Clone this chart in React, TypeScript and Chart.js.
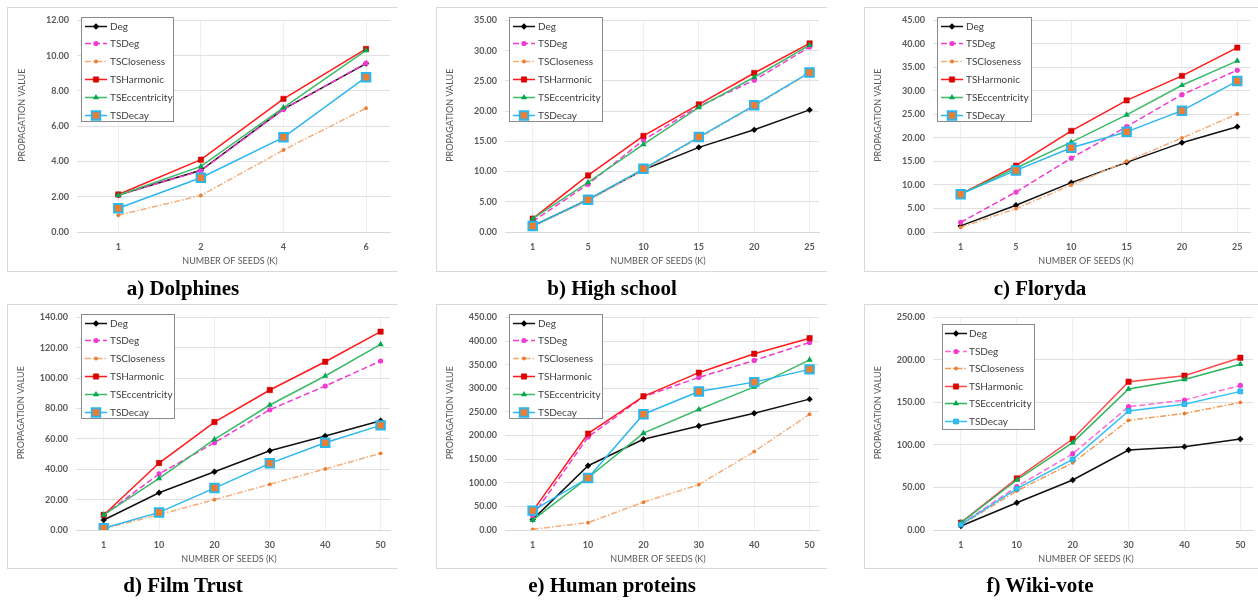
import React, { useEffect, useRef } from "react";
import { Chart, registerables } from "chart.js";
import { drawPoint } from "chart.js/helpers";

Chart.register(...registerables);

const SERIES_NAMES = ["Deg", "TSDeg", "TSCloseness", "TSHarmonic", "TSEccentricity", "TSDecay"];
const X_TITLE = "NUMBER OF SEEDS (K)";
const Y_TITLE = "PROPAGATION VALUE";

// a) Dolphines
const dolphinsSeeds = ["1", "2", "4", "6"];
const dolphinsDeg = [2.1, 3.5, 6.97, 9.55];
const dolphinsTSDeg = [2.1, 3.47, 6.95, 9.58];
const dolphinsTSCloseness = [0.95, 2.07, 4.65, 7.02];
const dolphinsTSHarmonic = [2.13, 4.1, 7.55, 10.38];
const dolphinsTSEccentricity = [2.08, 3.72, 7.05, 10.3];
const dolphinsTSDecay = [1.35, 3.08, 5.37, 8.78];

// b) High school
const highSchoolSeeds = ["1", "5", "10", "15", "20", "25"];
const highSchoolDeg = [1.0, 5.35, 10.3, 14.0, 16.9, 20.2];
const highSchoolTSDeg = [1.75, 7.9, 15.2, 20.8, 25.1, 30.6];
const highSchoolTSCloseness = [0.9, 5.2, 10.2, 15.6, 20.8, 26.3];
const highSchoolTSHarmonic = [2.2, 9.35, 15.9, 21.1, 26.3, 31.2];
const highSchoolTSEccentricity = [2.2, 8.2, 14.5, 20.6, 25.6, 30.9];
const highSchoolTSDecay = [1.0, 5.35, 10.45, 15.7, 20.95, 26.4];

// c) Floryda
const florydaSeeds = ["1", "5", "10", "15", "20", "25"];
const florydaDeg = [1.3, 5.7, 10.5, 14.8, 19.0, 22.4];
const florydaTSDeg = [2.05, 8.5, 15.7, 22.4, 29.2, 34.4];
const florydaTSCloseness = [1.0, 4.95, 10.0, 15.0, 20.0, 25.1];
const florydaTSHarmonic = [8.05, 14.1, 21.5, 28.0, 33.2, 39.2];
const florydaTSEccentricity = [8.05, 13.6, 19.1, 24.9, 31.2, 36.4];
const florydaTSDecay = [8.05, 13.1, 17.9, 21.3, 25.8, 32.1];

// d) Film Trust
const filmTrustSeeds = ["1", "10", "20", "30", "40", "50"];
const filmTrustDeg = [6.6, 24.5, 38.4, 52.2, 61.9, 72.0];
const filmTrustTSDeg = [9.9, 36.9, 57.5, 79.2, 94.8, 111.3];
const filmTrustTSCloseness = [0.9, 10.1, 20.0, 30.1, 40.2, 50.5];
const filmTrustTSHarmonic = [9.9, 44.1, 71.1, 92.2, 110.8, 130.6];
const filmTrustTSEccentricity = [9.9, 34.0, 59.7, 82.3, 101.4, 122.2];
const filmTrustTSDecay = [1.1, 11.6, 27.6, 43.9, 57.5, 68.9];

// e) Human proteins
const humanSeeds = ["1", "10", "20", "30", "40", "50"];
const humanDeg = [22, 136, 192, 220, 247, 277];
const humanTSDeg = [30, 197, 282, 323, 359, 397];
const humanTSCloseness = [1.5, 15.5, 59, 96, 166, 245];
const humanTSHarmonic = [40, 204, 283, 333, 373, 406];
const humanTSEccentricity = [21, 111, 205, 255, 303, 360];
const humanTSDecay = [41, 110, 245, 293, 313, 340];

// f) Wiki-vote
const wikiSeeds = ["1", "10", "20", "30", "40", "50"];
const wikiDeg = [4.7, 32, 58.8, 94, 98, 107];
const wikiTSDeg = [7, 51, 89.7, 145, 152.8, 170];
const wikiTSCloseness = [5.9, 46, 79, 129, 137, 150];
const wikiTSHarmonic = [8.6, 60.7, 107, 174.4, 181.5, 202.5];
const wikiTSEccentricity = [8.6, 58.8, 102.7, 165.8, 177, 195];
const wikiTSDecay = [6.3, 48.6, 83, 140, 148, 163];

const CAPTIONS = ["a) Dolphines", "b) High school", "c) Floryda", "d) Film Trust", "e) Human proteins", "f) Wiki-vote"];
const Y_MAX = [12, 35, 45, 140, 450, 250];
const Y_STEP = [2, 5, 5, 20, 50, 50];

type Style = {
  color: string;
  dash: number[];
  pointStyle: string;
  radius: number;
  pointFill: string;
  pointBorder: string;
  pointBorderWidth: number;
};

const STYLES: Style[] = [
  { color: "#111111", dash: [], pointStyle: "rectRot", radius: 3.2, pointFill: "#000000", pointBorder: "#000000", pointBorderWidth: 0 },
  { color: "#f03ad0", dash: [6, 3], pointStyle: "circle", radius: 2.6, pointFill: "#f03ad0", pointBorder: "#f03ad0", pointBorderWidth: 0 },
  { color: "#f5ad7a", dash: [6, 2, 1.5, 2], pointStyle: "circle", radius: 1.9, pointFill: "#ed7d31", pointBorder: "#ed7d31", pointBorderWidth: 0 },
  { color: "#ff1a1a", dash: [], pointStyle: "rect", radius: 3.8, pointFill: "#e00000", pointBorder: "#c00000", pointBorderWidth: 0.5 },
  { color: "#3cba6a", dash: [], pointStyle: "triangle", radius: 3.6, pointFill: "#00a84f", pointBorder: "#00a84f", pointBorderWidth: 0 },
  { color: "#2ab7f0", dash: [], pointStyle: "rect", radius: 6, pointFill: "#ed7d31", pointBorder: "#2ab7f0", pointBorderWidth: 2 },
];

const WIKI_STYLES: Style[] = [
  STYLES[0],
  { ...STYLES[1], color: "#ff6ad8" },
  { ...STYLES[2], color: "#f29a55" },
  { ...STYLES[3], color: "#ff4a4a" },
  { ...STYLES[4], color: "#2fb35e" },
  { color: "#33c0f5", dash: [], pointStyle: "rect", radius: 3.4, pointFill: "#33c0f5", pointBorder: "#1aa6e0", pointBorderWidth: 0.8 },
];

type Rect = { l: number; t: number; r: number; b: number };
type PanelDef = {
  seeds: string[];
  series: number[][];
  yMax: number;
  yStep: number;
  caption: string;
  box: Rect;
  plot: Rect;
  xMax: number;
  legend: { x: number; y: number; w: number; h: number; first: number; gap: number; lx0: number; lx1: number; tx: number };
  styles: Style[];
};

const LEG_A = { x: 74, y: 10, w: 93, h: 105, first: 8.5, gap: 17.8, lx0: 4, lx1: 26, tx: 29 };
const LEG_F = { x: 78, y: 20, w: 93, h: 106, first: 9, gap: 17.6, lx0: 3, lx1: 25, tx: 27 };

const PANELS: PanelDef[] = [
  {
    seeds: dolphinsSeeds,
    series: [dolphinsDeg, dolphinsTSDeg, dolphinsTSCloseness, dolphinsTSHarmonic, dolphinsTSEccentricity, dolphinsTSDecay],
    yMax: Y_MAX[0], yStep: Y_STEP[0], caption: CAPTIONS[0],
    box: { l: 7, t: 7, r: 398, b: 272 }, plot: { l: 77, t: 20, r: 398, b: 232 }, xMax: 3.29,
    legend: LEG_A, styles: STYLES,
  },
  {
    seeds: highSchoolSeeds,
    series: [highSchoolDeg, highSchoolTSDeg, highSchoolTSCloseness, highSchoolTSHarmonic, highSchoolTSEccentricity, highSchoolTSDecay],
    yMax: Y_MAX[1], yStep: Y_STEP[1], caption: CAPTIONS[1],
    box: { l: 436, t: 7, r: 827, b: 272 }, plot: { l: 505, t: 20, r: 827, b: 232 }, xMax: 5.17,
    legend: { ...LEG_A, x: 73, w: 94 }, styles: STYLES,
  },
  {
    seeds: florydaSeeds,
    series: [florydaDeg, florydaTSDeg, florydaTSCloseness, florydaTSHarmonic, florydaTSEccentricity, florydaTSDecay],
    yMax: Y_MAX[2], yStep: Y_STEP[2], caption: CAPTIONS[2],
    box: { l: 864, t: 7, r: 1258, b: 272 }, plot: { l: 933, t: 20, r: 1258, b: 232 }, xMax: 5.23,
    legend: { ...LEG_A, x: 73, w: 95 }, styles: STYLES,
  },
  {
    seeds: filmTrustSeeds,
    series: [filmTrustDeg, filmTrustTSDeg, filmTrustTSCloseness, filmTrustTSHarmonic, filmTrustTSEccentricity, filmTrustTSDecay],
    yMax: Y_MAX[3], yStep: Y_STEP[3], caption: CAPTIONS[3],
    box: { l: 7, t: 304, r: 398, b: 569 }, plot: { l: 76, t: 317, r: 398, b: 530 }, xMax: 5.17,
    legend: { ...LEG_A, x: 74, w: 94 }, styles: STYLES,
  },
  {
    seeds: humanSeeds,
    series: [humanDeg, humanTSDeg, humanTSCloseness, humanTSHarmonic, humanTSEccentricity, humanTSDecay],
    yMax: Y_MAX[4], yStep: Y_STEP[4], caption: CAPTIONS[4],
    box: { l: 436, t: 304, r: 827, b: 569 }, plot: { l: 505, t: 317, r: 827, b: 530 }, xMax: 5.17,
    legend: { ...LEG_A, x: 73, w: 94 }, styles: STYLES,
  },
  {
    seeds: wikiSeeds,
    series: [wikiDeg, wikiTSDeg, wikiTSCloseness, wikiTSHarmonic, wikiTSEccentricity, wikiTSDecay],
    yMax: Y_MAX[5], yStep: Y_STEP[5], caption: CAPTIONS[5],
    box: { l: 864, t: 304, r: 1258, b: 569 }, plot: { l: 933, t: 317, r: 1258, b: 530 }, xMax: 5.23,
    legend: LEG_F, styles: WIKI_STYLES,
  },
];

const FONT = "Lato, 'Liberation Sans', sans-serif";
const TEXT_GRAY = "#595959";

const decorPlugin = {
  id: "decor",
  afterDraw(chart: any, _args: any, opts: any) {
    const ctx = chart.ctx as CanvasRenderingContext2D;
    const ca = chart.chartArea;
    ctx.save();
    ctx.font = `9px ${FONT}`;
    ctx.fillStyle = TEXT_GRAY;
    ctx.textAlign = "center";
    ctx.textBaseline = "middle";
    ctx.fillText(X_TITLE, ca.left + 153, ca.bottom + 29);
    ctx.translate(ca.left - 55, (ca.top + ca.bottom) / 2 - 11);
    ctx.rotate(-Math.PI / 2);
    ctx.fillText(Y_TITLE, 0, 0);
    ctx.restore();

    const L = opts.legend;
    if (!L) return;
    ctx.save();
    ctx.fillStyle = "#ffffff";
    ctx.fillRect(L.x, L.y, L.w, L.h);
    ctx.strokeStyle = "#8a8a8a";
    ctx.lineWidth = 1;
    ctx.strokeRect(L.x + 0.5, L.y + 0.5, L.w - 1, L.h - 1);
    chart.data.datasets.forEach((ds: any, i: number) => {
      const cy = Math.round(L.y + L.first + i * L.gap) + 0.5;
      const x0 = L.x + L.lx0;
      const x1 = L.x + L.lx1;
      ctx.beginPath();
      ctx.setLineDash(ds.borderDash || []);
      ctx.strokeStyle = ds.borderColor;
      ctx.lineWidth = ds.borderWidth;
      ctx.moveTo(x0, cy);
      ctx.lineTo(x1, cy);
      ctx.stroke();
      ctx.setLineDash([]);
      ctx.fillStyle = ds.pointBackgroundColor;
      ctx.strokeStyle = ds.pointBorderColor;
      ctx.lineWidth = ds.pointBorderWidth;
      drawPoint(ctx, { pointStyle: ds.pointStyle, radius: ds.pointRadius, rotation: 0, borderWidth: ds.pointBorderWidth } as any, (x0 + x1) / 2, cy);
      ctx.fillStyle = "#404040";
      ctx.font = `10px ${FONT}`;
      ctx.textAlign = "left";
      ctx.textBaseline = "middle";
      ctx.fillText(ds.label, L.x + L.tx, cy);
    });
    ctx.restore();
  },
};

function Panel({ def }: { def: PanelDef }) {
  const ref = useRef<HTMLCanvasElement | null>(null);
  const w = def.box.r - def.box.l;
  const h = def.box.b - def.box.t;

  useEffect(() => {
    if (!ref.current) return;
    const { box, plot, seeds } = def;
    const chart = new Chart(ref.current, {
      type: "line",
      data: {
        datasets: SERIES_NAMES.map((name, i) => {
          const st = def.styles[i];
          return {
            label: name,
            data: def.series[i].map((v, j) => ({ x: j, y: v })),
            borderColor: st.color,
            backgroundColor: st.pointFill,
            borderWidth: 1.5,
            borderDash: st.dash,
            pointStyle: st.pointStyle as any,
            pointRadius: st.radius,
            pointBackgroundColor: st.pointFill,
            pointBorderColor: st.pointBorder,
            pointBorderWidth: st.pointBorderWidth,
            tension: 0,
            fill: false,
            order: 10 - i,
          };
        }),
      },
      options: {
        animation: false,
        responsive: false,
        maintainAspectRatio: false,
        events: [],
        layout: { padding: { left: 0, top: plot.t - box.t, right: box.r - plot.r, bottom: 0 } },
        plugins: {
          legend: { display: false },
          tooltip: { enabled: false },
          decor: { legend: def.legend },
        } as any,
        scales: {
          x: {
            type: "linear",
            min: -0.5,
            max: def.xMax,
            afterBuildTicks: (s: any) => {
              s.ticks = seeds.map((_, i) => ({ value: i }));
            },
            afterFit: (s: any) => {
              s.height = box.b - plot.b;
            },
            ticks: {
              autoSkip: false,
              maxRotation: 0,
              padding: 10,
              color: TEXT_GRAY,
              font: { family: FONT, size: 9, weight: "bold" },
              callback: (v: any) => seeds[Number(v)] ?? "",
            },
            grid: { color: "#efefef", lineWidth: 1, drawTicks: false },
            border: { color: "#d9d9d9", width: 1 },
          },
          y: {
            type: "linear",
            min: 0,
            max: def.yMax,
            afterFit: (s: any) => {
              s.width = plot.l - box.l;
            },
            ticks: {
              stepSize: def.yStep,
              padding: 8,
              color: TEXT_GRAY,
              font: { family: FONT, size: 9, weight: "bold" },
              callback: (v: any) => Number(v).toFixed(2),
            },
            grid: { color: "#e0e0e0", lineWidth: 1, drawTicks: false },
            border: { display: false },
          },
        },
      } as any,
      plugins: [decorPlugin],
    });
    return () => chart.destroy();
  }, [def]);

  return (
    <>
      <canvas
        ref={ref}
        width={w}
        height={h}
        style={{ position: "absolute", left: def.box.l, top: def.box.t, width: w, height: h }}
      />
      <div
        style={{
          position: "absolute",
          left: def.box.l,
          top: def.box.t,
          width: w,
          height: h,
          boxSizing: "border-box",
          borderLeft: "1px solid #d9d9d9",
          borderTop: "1px solid #d9d9d9",
          borderBottom: "1px solid #d9d9d9",
          pointerEvents: "none",
        }}
      />
      <div
        style={{
          position: "absolute",
          left: def.box.l + 176 - 150,
          top: def.box.b + 4,
          width: 300,
          textAlign: "center",
          fontFamily: "'Liberation Serif', 'Times New Roman', serif",
          fontWeight: "bold",
          fontSize: 21,
          lineHeight: "24px",
          color: "#000",
          whiteSpace: "nowrap",
        }}
      >
        {def.caption}
      </div>
    </>
  );
}

export default function App() {
  return (
    <div
      style={{
        position: "absolute",
        left: 0,
        top: 0,
        width: 1258,
        height: 602,
        overflow: "hidden",
        background: "#ffffff",
      }}
    >
      {PANELS.map((p, i) => (
        <Panel key={i} def={p} />
      ))}
    </div>
  );
}
